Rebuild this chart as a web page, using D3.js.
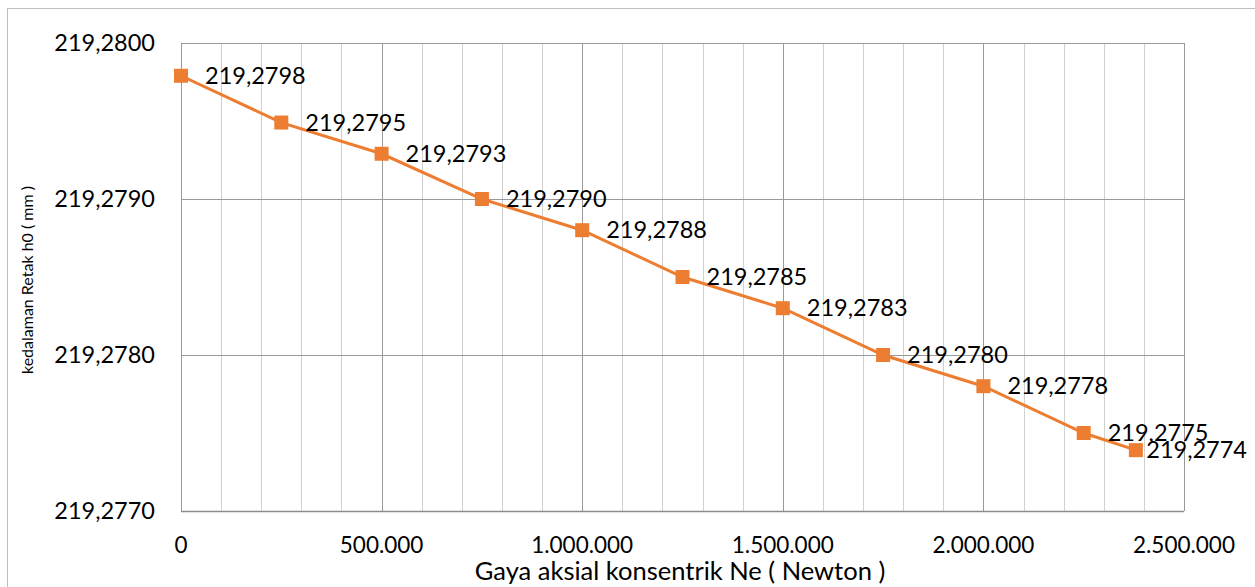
<!DOCTYPE html>
<html><head><meta charset="utf-8">
<script src="https://cdn.jsdelivr.net/npm/d3@7/dist/d3.min.js"></script>
<style>body{margin:0;background:#fff;}svg{display:block;}</style>
</head><body>
<svg id="chart" width="1255" height="587"></svg>
<script>
// Data
const forces = [0, 250000, 500000, 750000, 1000000, 1250000, 1500000, 1750000, 2000000, 2250000, 2380000];
const depths = [219.27979, 219.27949, 219.27929, 219.2790, 219.2788, 219.2785, 219.2783, 219.2780, 219.2778, 219.2775, 219.27739];
const xTicks = [0, 500000, 1000000, 1500000, 2000000, 2500000];
const yTicks = [219.2770, 219.2780, 219.2790, 219.2800];
const xTitle = "Gaya aksial konsentrik Ne ( Newton )";
const yTitle = "kedalaman Retak h0  ( mm )";

const svg = d3.select("#chart");
const W = 1255, H = 587;
const m = {left: 181, right: 1184, top: 43, bottom: 511};
const font = "Lato, 'Open Sans', sans-serif";

// outer border
svg.append("rect").attr("x", 7.5).attr("y", 8.5).attr("width", W).attr("height", H)
  .attr("fill", "none").attr("stroke", "#bfbfbf").attr("stroke-width", 1);

const x = d3.scaleLinear().domain([0, 2500000]).range([m.left, m.right]);
const y = d3.scaleLinear().domain([219.2770, 219.2800]).range([m.bottom, m.top]);

// minor vertical gridlines
const minor = d3.range(0, 2500001, 100000);
svg.append("g").selectAll("line").data(minor.filter(v => v % 500000 !== 0)).join("line")
  .attr("x1", d => Math.round(x(d)) + 0.5).attr("x2", d => Math.round(x(d)) + 0.5)
  .attr("y1", m.top).attr("y2", m.bottom)
  .attr("stroke", "#d0d0d0").attr("stroke-width", 1);
// major vertical gridlines
svg.append("g").selectAll("line").data(xTicks).join("line")
  .attr("x1", d => Math.round(x(d)) + 0.5).attr("x2", d => Math.round(x(d)) + 0.5)
  .attr("y1", m.top).attr("y2", m.bottom)
  .attr("stroke", "#9a9a9a").attr("stroke-width", 1);
// horizontal gridlines
svg.append("g").selectAll("line").data(yTicks).join("line")
  .attr("x1", m.left).attr("x2", m.right)
  .attr("y1", d => Math.round(y(d)) + 0.5).attr("y2", d => Math.round(y(d)) + 0.5)
  .attr("stroke", "#9a9a9a").attr("stroke-width", 1);
// bottom axis line
svg.append("line").attr("x1", m.left).attr("x2", m.right)
  .attr("y1", m.bottom + 0.5).attr("y2", m.bottom + 0.5)
  .attr("stroke", "#8c8c8c").attr("stroke-width", 1.5);

const fmtX = v => v === 0 ? "0" : d3.format(",")(v).replace(/,/g, ".");
const fmtY = v => v.toFixed(4).replace(".", ",");

// x tick labels
svg.append("g").selectAll("text").data(xTicks).join("text")
  .attr("x", d => x(d)).attr("y", 553)
  .attr("text-anchor", "middle").attr("font-family", font).attr("font-size", 22.5)
  .attr("fill", "#000").text(fmtX);
// y tick labels
svg.append("g").selectAll("text").data(yTicks).join("text")
  .attr("x", 155).attr("y", d => y(d)).attr("dy", "0.35em")
  .attr("text-anchor", "end").attr("font-family", font).attr("font-size", 23.5)
  .attr("fill", "#000").text(fmtY);

// titles
svg.append("text").attr("x", 680).attr("y", 580).attr("text-anchor", "middle")
  .attr("font-family", font).attr("font-size", 25.5).attr("fill", "#000").text(xTitle);
svg.append("text").attr("transform", "translate(33,280) rotate(-90)").attr("text-anchor", "middle")
  .attr("font-family", font).attr("font-size", 16).attr("fill", "#000").text(yTitle);

const pts = forces.map((f, i) => ({f, d: depths[i]}));
// line
svg.append("path").datum(pts)
  .attr("d", d3.line().x(p => x(p.f)).y(p => y(p.d)))
  .attr("fill", "none").attr("stroke", "#ED7D31").attr("stroke-width", 3);
// markers
const s = 14;
svg.append("g").selectAll("rect").data(pts).join("rect")
  .attr("x", p => x(p.f) - s / 2).attr("y", p => y(p.d) - s / 2)
  .attr("width", s).attr("height", s).attr("fill", "#ED7D31");
// data labels (kept inside the chart area like the original)
svg.append("g").selectAll("text").data(pts).join("text")
  .attr("y", p => y(p.d)).attr("dy", "0.35em")
  .attr("font-family", font).attr("font-size", 23.5).attr("fill", "#000")
  .text(p => fmtY(p.d))
  .attr("x", function(p) {
    const w = this.getComputedTextLength();
    return Math.min(x(p.f) + 24, 1247 - w);
  });
</script>
</body></html>
